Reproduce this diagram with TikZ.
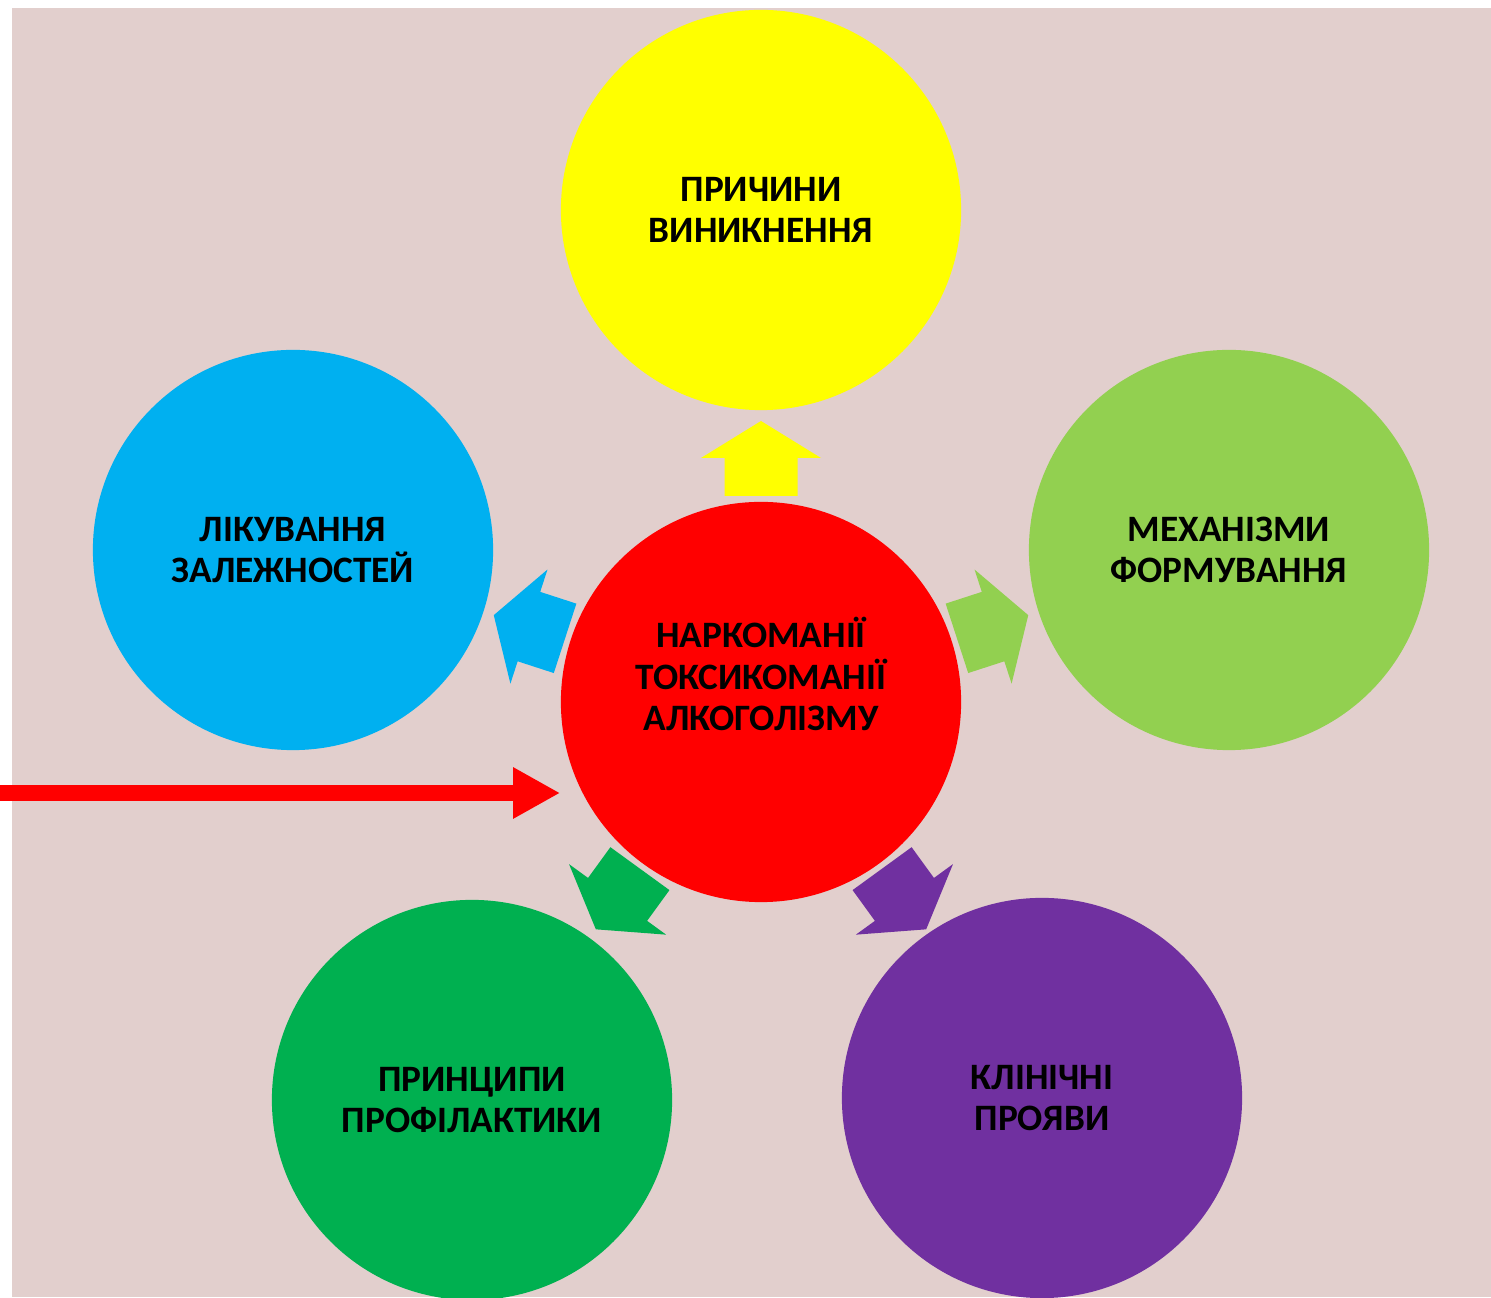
\documentclass[tikz,border=0pt]{standalone}
\usepackage{fontspec}
\setmainfont{Carlito}
\usetikzlibrary{arrows.meta}

\definecolor{bgpink}{HTML}{E2CFCD}
\definecolor{redc}{HTML}{FF0000}
\definecolor{yelc}{HTML}{FFFF00}
\definecolor{bluc}{HTML}{00B0F0}
\definecolor{lgrc}{HTML}{92D050}
\definecolor{dgrc}{HTML}{00B050}
\definecolor{purc}{HTML}{7030A0}

\tikzset{
  topic/.style={circle, minimum size=4cm, inner sep=0pt, align=center,
    font=\bfseries\fontsize{10.6}{11.7}\selectfont},
  topictext/.style={align=center, inner sep=0pt,
    font=\bfseries\fontsize{10.6}{11.7}\selectfont},
}

\begin{document}
\begin{tikzpicture}[x=0.01cm, y=0.01cm]
    \useasboundingbox (0,0) rectangle (1491,1297);
    \fill[bgpink] (12,0) rectangle (1491,1289);

    \node[topic, fill=redc,
      label={[topictext, yshift=0.28cm]center:{НАРКОМАНІЇ\\ТОКСИКОМАНІЇ\\АЛКОГОЛІЗМУ}}]
      (ctr) at (761,595) {};
    \node[topic, fill=yelc] (causes) at (761,1087) {ПРИЧИНИ\\ВИНИКНЕННЯ};
    \node[topic, fill=bluc] (cure) at (293,747) {ЛІКУВАННЯ\\ЗАЛЕЖНОСТЕЙ};
    \node[topic, fill=lgrc] (mech) at (1229,747) {МЕХАНІЗМИ\\ФОРМУВАННЯ};
    \node[topic, fill=dgrc] (prev) at (472,197) {ПРИНЦИПИ\\ПРОФІЛАКТИКИ};
    \node[topic, fill=purc] (signs) at (1042,199) {КЛІНІЧНІ\\ПРОЯВИ};

    % block arrows out of the centre
    \foreach \ang/\col in {90/yelc, 162/bluc, 18/lgrc, 234/dgrc, 306/purc}
      \fill[\col, shift={(ctr.center)}, rotate=\ang]
        (206,36.5) -- (244,36.5) -- (244,60) -- (281,0)
        -- (244,-60) -- (244,-36.5) -- (206,-36.5) -- cycle;

    % incoming arrow
    \coordinate (src) at (0,504);
    \draw[redc, line width=0.16cm, -{Triangle[width=0.48cm, length=0.47cm]}]
      (src) -- (ctr.west |- src);
\end{tikzpicture}
\end{document}
